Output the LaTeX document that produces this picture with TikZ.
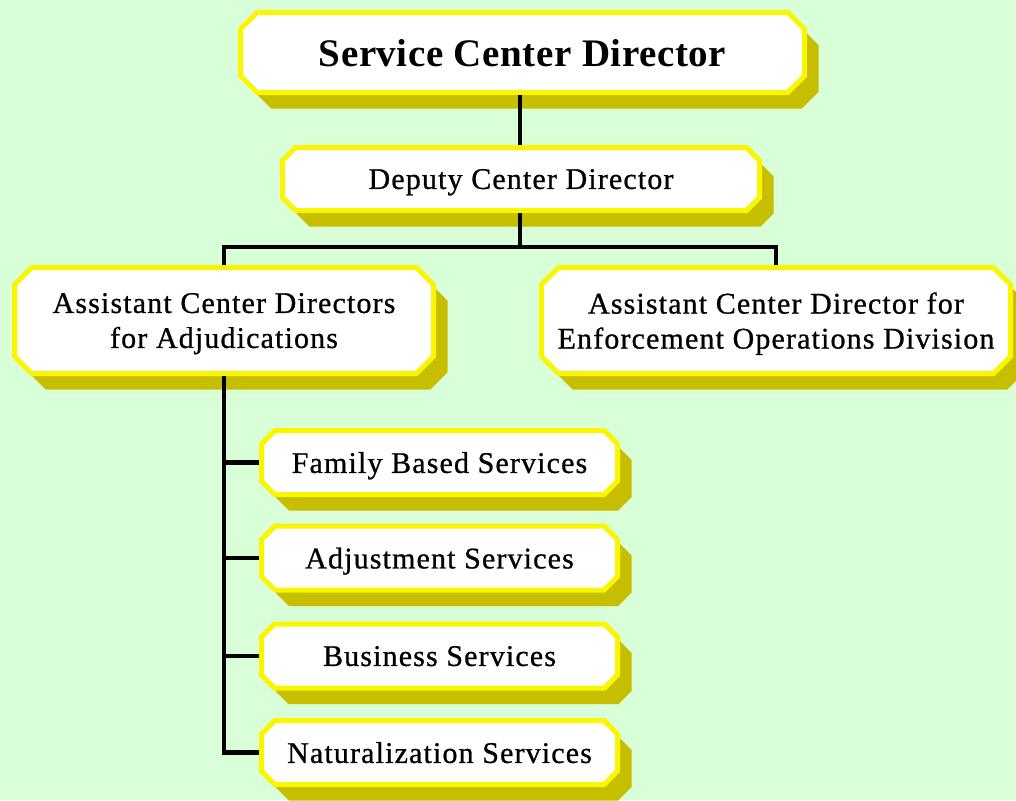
\documentclass[tikz,border=0pt]{standalone}
\usepackage{fontspec}
\setmainfont{Liberation Serif}
\newfontfamily\boxfont{Liberation Serif}[LetterSpace=3.8,FakeBold=0.8]
\newfontfamily\titlefont{Liberation Serif}[LetterSpace=1.5]
\usetikzlibrary{shapes.misc,shadows}
\definecolor{bg}{RGB}{216,255,216}
\definecolor{boxedge}{RGB}{250,245,0}
\definecolor{boxshadow}{RGB}{200,190,0}
\begin{document}
\begin{tikzpicture}[x=1pt,y=-1pt,
  box/.style={chamfered rectangle, chamfered rectangle angle=45,
    chamfered rectangle xsep=14pt, draw=boxedge, line width=5pt, fill=white,
    inner sep=0pt, align=center, text=black, text depth=0pt,
    font=\boxfont\fontsize{30}{35}\selectfont,
    drop shadow={shadow xshift=14pt, shadow yshift=-16pt, fill=boxshadow, opacity=1}},
  conn/.style={draw=black, line width=4.5pt}]
\fill[bg] (0,0) rectangle (1016,800);
\useasboundingbox (0,0) rectangle (1016,800);
\node[box, minimum width=564pt, minimum height=80pt,
  font=\titlefont\bfseries\fontsize{39}{44}\selectfont] (top) at (522.5,52.5) {Service Center Director};
\node[box, minimum width=477pt, minimum height=63pt] (dep) at (521,179) {Deputy Center Director};
\node[box, minimum width=419pt, minimum height=106pt] (left) at (224,320.5) {Assistant Center Directors\\for Adjudications};
\node[box, minimum width=469pt, minimum height=106pt] (right) at (776,320.5) {Assistant Center Director for\\Enforcement Operations Division};
\node[box, minimum width=356pt, minimum height=64pt] (fam) at (439.5,462.5) {Family Based Services};
\node[box, minimum width=356pt, minimum height=64pt] (adj) at (439.5,558) {Adjustment Services};
\node[box, minimum width=356pt, minimum height=64pt] (bus) at (439.5,656) {Business Services};
\node[box, minimum width=356pt, minimum height=64pt] (nat) at (439.5,752.5) {Naturalization Services};
\coordinate (j) at (520,247);
\draw[conn] (j |- top.south) -- (j |- dep.north);
\draw[conn] (j |- dep.south) -- (j);
\draw[conn] (left.north) |- (j) -| (right.north);
\draw[conn] (left.south) |- (nat.west);
\foreach \n in {fam,adj,bus} \draw[conn] (left.south |- \n.west) -- (\n.west);
\end{tikzpicture}
\end{document}
